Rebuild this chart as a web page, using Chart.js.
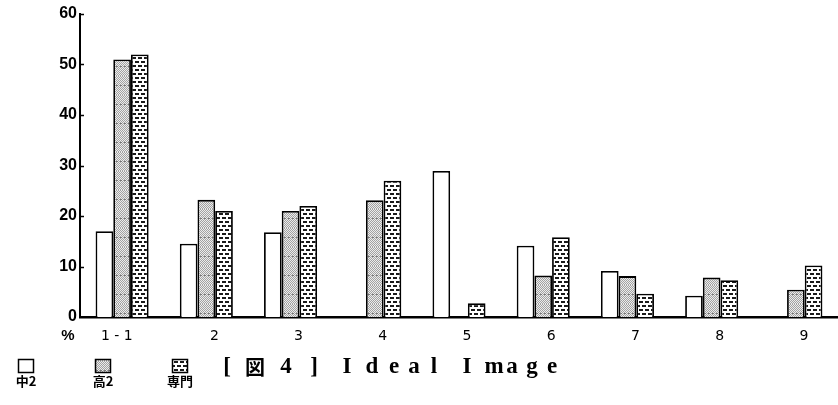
<!DOCTYPE html>
<html>
<head>
<meta charset="utf-8">
<script src="https://cdn.jsdelivr.net/npm/chart.js@4/dist/chart.umd.min.js"></script>
<style>
html,body{margin:0;padding:0;background:#fff;}
#c{display:block;}
</style>
</head>
<body>
<canvas id="c" width="838" height="405"></canvas>
<script>
// ---- data ----
const categories = ['1-1', '2', '3', '4', '5', '6', '7', '8', '9'];
const seriesNames = ['中2', '高2', '専門'];
const chu2   = [17, 14.5, 16.8, null, 28.9, 14.1, 9.1, 4.2, null];
const kou2   = [51, 23.2, 21, 23.1, null, 8.2, 8.1, 7.8, 5.4];
const senmon = [52, 21, 22, 27, 2.7, 15.8, 4.6, 7.3, 10.2];
const yTicks = [0, 10, 20, 30, 40, 50, 60];
const titleText = '[図4] Ideal Image';

// ---- fill patterns ----
function grayPattern() {
  const t = document.createElement('canvas');
  t.width = 4; t.height = 19;
  const g = t.getContext('2d');
  g.fillStyle = '#ececec'; g.fillRect(0, 0, 4, 19);
  g.fillStyle = '#a2a2a2';
  for (let y = 0; y < 19; y++) for (let x = 0; x < 4; x++) if ((x + y) % 2 === 0) g.fillRect(x, y, 1, 1);
  g.fillStyle = '#777';
  g.fillRect(0, 9, 2, 1);
  return g.createPattern(t, 'repeat');
}
function dotPattern() {
  const t = document.createElement('canvas');
  t.width = 6; t.height = 8;
  const g = t.getContext('2d');
  g.fillStyle = '#fff'; g.fillRect(0, 0, 6, 8);
  g.fillStyle = '#1a1a1a';
  g.fillRect(0, 1, 4, 2);
  g.fillRect(3, 5, 3, 2);
  g.fillRect(0, 5, 1, 2);
  return g.createPattern(t, 'repeat');
}
const fills = ['#ffffff', grayPattern(), dotPattern()];

const extras = {
  id: 'extras',
  afterDraw(chart) {
    const ctx = chart.ctx;
    const y = chart.scales.y;
    const ca = chart.chartArea;
    ctx.save();
    // inward y ticks
    ctx.strokeStyle = '#000'; ctx.lineWidth = 1.5;
    yTicks.forEach(v => {
      if (v === 0) return;
      const py = Math.round(y.getPixelForValue(v)) + 0.5;
      ctx.beginPath(); ctx.moveTo(ca.left, py); ctx.lineTo(ca.left + 4, py); ctx.stroke();
    });
    // % sign
    ctx.fillStyle = '#000';
    ctx.font = 'bold 15px "Liberation Sans Narrow", "Liberation Sans", sans-serif';
    ctx.textAlign = 'center'; ctx.textBaseline = 'middle';
    ctx.fillText('%', 68, 336);
    // legend
    const boxX = [18, 95, 172];
    chart.data.datasets.forEach((ds, i) => {
      const bx = boxX[i];
      ctx.fillStyle = ds.backgroundColor;
      ctx.fillRect(bx, 359, 15, 13);
      ctx.strokeStyle = '#000'; ctx.lineWidth = 1.5;
      ctx.strokeRect(bx + 0.5, 359.5, 15, 13);
      ctx.fillStyle = '#000';
      ctx.font = 'bold 13px "Noto Sans CJK JP", sans-serif';
      ctx.textAlign = 'center'; ctx.textBaseline = 'middle';
      ctx.fillText(ds.label, bx + 8, 381);
    });
    // title: typewriter-style spaced characters
    const chars = Array.from(titleText);
    const xs = [227, 255, 286, 314, null, 347, 372, 394, 414, 434, null, 467, 494, 512, 532, 552];
    ctx.textAlign = 'center'; ctx.textBaseline = 'middle';
    chars.forEach((ch, i) => {
      if (ch === ' ' || xs[i] == null) return;
      ctx.font = (ch === '図') ? 'bold 20px "Noto Sans CJK JP", sans-serif'
                               : 'bold 23px "Liberation Serif", "DejaVu Serif", serif';
      ctx.fillText(ch, xs[i], 367);
    });
    ctx.restore();
  }
};

new Chart(document.getElementById('c'), {
  type: 'bar',
  data: {
    labels: categories,
    datasets: [
      { label: seriesNames[0], data: chu2,   backgroundColor: fills[0] },
      { label: seriesNames[1], data: kou2,   backgroundColor: fills[1] },
      { label: seriesNames[2], data: senmon, backgroundColor: fills[2] }
    ].map(d => Object.assign(d, { borderColor: '#000', borderWidth: 1.8, borderSkipped: 'bottom' }))
  },
  options: {
    responsive: false,
    devicePixelRatio: 1,
    animation: false,
    layout: { padding: { top: 14, left: 0, right: 0, bottom: 0 } },
    datasets: { bar: { categoryPercentage: 0.63, barPercentage: 1.0 } },
    plugins: { legend: { display: false }, tooltip: { enabled: false }, title: { display: false } },
    scales: {
      x: {
        grid: { display: false, drawTicks: false },
        border: { display: true, color: '#000', width: 2.5 },
        ticks: {
          color: '#000',
          font: { family: '"DejaVu Sans", sans-serif', size: 14 },
          padding: 11,
          labelOffset: 8,
          maxRotation: 0,
          autoSkip: false,
          callback: function (v, i) {
            const s = this.getLabelForValue(v);
            return i === 0 ? s.split('').join(' ') + '\u00a0\u00a0\u00a0\u00a0\u00a0\u00a0' : s;
          }
        },
        afterFit: s => { s.height = 88; }
      },
      y: {
        min: 0, max: 60,
        afterBuildTicks: s => { s.ticks = yTicks.map(v => ({ value: v })); },
        grid: { display: false, drawTicks: false },
        border: { display: true, color: '#000', width: 2 },
        ticks: {
          color: '#000',
          font: { family: '"Liberation Sans Narrow", "Liberation Sans", sans-serif', size: 16, weight: 'bold' },
          padding: 3
        },
        afterFit: s => { s.width = 80; }
      }
    }
  },
  plugins: [extras]
});
</script>
</body>
</html>
